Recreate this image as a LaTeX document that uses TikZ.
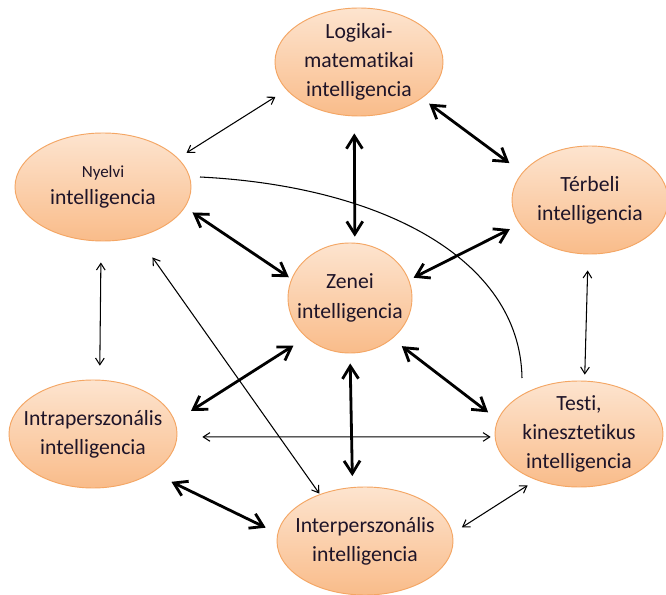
\documentclass[tikz,border=0pt]{standalone}
\usepackage{fontspec}
\setmainfont{Carlito}[Ligatures=NoCommon]
\usepackage{tikz}
\usepackage{xcolor}
\usetikzlibrary{shapes.geometric,arrows.meta}

\definecolor{peachtop}{RGB}{253,228,207}
\definecolor{peachbot}{RGB}{249,188,138}
\definecolor{peachline}{RGB}{244,166,100}
\definecolor{inktext}{RGB}{30,20,40}

\tikzset{
  blob/.style={ellipse, draw=peachline, line width=0.8pt, top color=peachtop, bottom color=peachbot,
    inner xsep=-10pt, inner ysep=-3pt, align=center, text=inktext, font=\fontsize{18.5}{25}\selectfont},
  thick link/.style={line width=2.4pt, >={Straight Barb[length=3.8mm,width=4.8mm]}, <->},
  thin link/.style={line width=0.9pt, >={Straight Barb[length=2mm,width=2.6mm]}, <->}
}

\begin{document}
\begin{tikzpicture}[x=0.03cm,y=-0.03cm]
    \useasboundingbox[fill=white] (0,0) rectangle (666,595);

    % the seven intelligences
    \node[blob, minimum width=5.04cm, minimum height=3.24cm] (logikai) at (359,62) {Logikai-\\matematikai\\intelligencia};
    \node[blob, minimum width=5.28cm, minimum height=3.24cm] (nyelvi) at (103,187) {{\fontsize{14.5}{17}\selectfont Nyelvi}\\[-2pt]intelligencia};
    \node[blob, minimum width=4.68cm, minimum height=3.24cm] (terbeli) at (590,200) {Térbeli\\intelligencia};
    \node[blob, minimum width=3.72cm, minimum height=3.3cm] (zenei) at (350,298) {Zenei\\intelligencia};
    \node[blob, minimum width=5.04cm, minimum height=3.24cm] (intra) at (93,434) {Intraperszonális\\intelligencia};
    \node[blob, minimum width=5.04cm, minimum height=3.18cm] (testi) at (579,434) {Testi,\\kinesztetikus\\intelligencia};
    \node[blob, minimum width=5.28cm, minimum height=3.24cm] (inter) at (365,541) {Interperszonális\\intelligencia};

    % strong links
    \draw[thick link, shorten <=0.27cm, shorten >=0.48cm] (logikai.330) -- (terbeli.158);
    \draw[thick link, shorten <=0.51cm, shorten >=0.18cm] (logikai.265) -- (zenei.85);
    \draw[thick link, shorten <=0.27cm, shorten >=0.09cm] (nyelvi.346) -- (zenei.162);
    \draw[thick link, shorten <=0.33cm, shorten >=0.15cm] (terbeli.199) -- (zenei.17);
    \draw[thick link, shorten <=0.45cm, shorten >=0.57cm] (zenei.222) -- (intra.9);
    \draw[thick link, shorten <=0.36cm, shorten >=0.36cm] (zenei.316) -- (testi.170);
    \draw[thick link, shorten <=0.3cm, shorten >=0.33cm] (zenei.270) -- (inter.103);
    \draw[thick link, shorten <=0.63cm, shorten >=0.39cm] (intra.327) -- (inter.175);

    % weak links
    \draw[thin link, shorten <=0.39cm, shorten >=0.3cm] (logikai.201) -- (nyelvi.21);
    \draw[thin link, shorten <=0.63cm, shorten >=0.42cm] (nyelvi.268) -- (intra.83);
    \draw[thin link, shorten <=0.75cm, shorten >=0.02cm] (nyelvi.305) -- (inter.134);
    \draw[thin link, shorten <=0.48cm, shorten >=0.18cm] (terbeli.268) -- (testi.84);
    \draw[thin link, shorten <=0.75cm, shorten >=0.12cm] (intra.358) -- (testi.182);
    \draw[thin link, shorten <=0.3cm, shorten >=0.33cm] (testi.227) -- (inter.5);

    % the arc without tips
    \coordinate (arcfrom) at (200,177);
    \coordinate (arcto) at (522,378);
    \draw[line width=0.9pt] (arcfrom) .. controls (380,186) and (520,258) .. (arcto);
\end{tikzpicture}
\end{document}
